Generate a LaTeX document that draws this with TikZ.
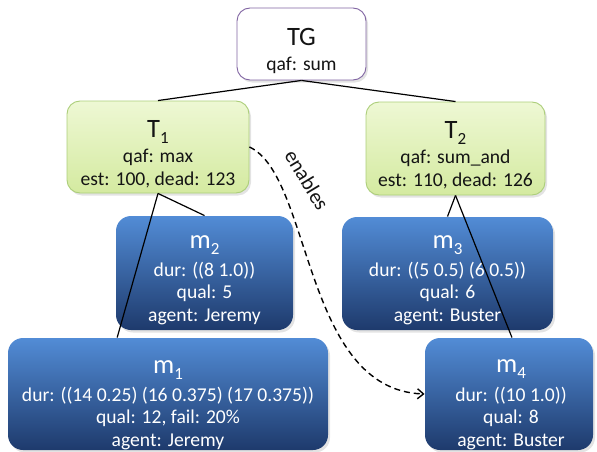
\documentclass[tikz,border=0pt]{standalone}
\usepackage{fontspec}
\setmainfont{Carlito}
\usetikzlibrary{shadows,arrows.meta}
\definecolor{tgborder}{RGB}{128,100,162}
\definecolor{grtop}{RGB}{238,248,212}
\definecolor{grbot}{RGB}{212,234,160}
\definecolor{grborder}{RGB}{172,206,122}
\definecolor{bltop}{RGB}{82,140,214}
\definecolor{blbot}{RGB}{30,58,108}
\definecolor{darktext}{RGB}{20,20,20}
\newcommand\titlefs{\fontsize{26.5}{26.5}\selectfont}
\newcommand\bodyfs{\fontsize{19.6}{22.5}\selectfont}
\newcommand\subsc[1]{\raisebox{-6pt}{\fontsize{17}{17}\selectfont #1}}
\begin{document}
\begin{tikzpicture}[x=1pt,y=-1pt,
  box/.style={rectangle, rounded corners=13pt, inner sep=0pt, line width=0.9pt,
    drop shadow={opacity=0.22, shadow xshift=2pt, shadow yshift=-2.5pt}},
  tgbox/.style={box, draw=tgborder, fill=white},
  grbox/.style={box, draw=grborder, top color=grtop, bottom color=grbot},
  blbox/.style={box, rounded corners=15pt, draw=none, top color=bltop, bottom color=blbot},
  txt/.style={anchor=north, align=center, inner sep=0pt, font=\bodyfs},
  dtxt/.style={txt, text=darktext},
  wtxt/.style={txt, text=white},
  edge/.style={draw=black, line width=1.2pt},
  enab/.style={draw=black, line width=1.4pt, dash pattern=on 6pt off 4pt,
    -{Straight Barb[length=6pt,width=10pt,line width=1.4pt]}}
]
\useasboundingbox (0,0) rectangle (597,452);

% boxes
\node[tgbox, minimum width=129pt, minimum height=72pt] (TG) at (301.5,44) {};
\node[grbox, minimum width=182pt, minimum height=92pt] (T1) at (158,147) {};
\node[grbox, minimum width=179pt, minimum height=93pt] (T2) at (455.5,148.5) {};
\node[blbox, minimum width=177pt, minimum height=114pt] (m2) at (204.5,273) {};
\node[blbox, minimum width=211pt, minimum height=113pt] (m3) at (447.5,273.5) {};
\node[blbox, minimum width=320pt, minimum height=112pt] (m1) at (168,394) {};
\node[blbox, minimum width=168pt, minimum height=112pt] (m4) at (509,394) {};

% texts
\node[dtxt] (TGt) at (301.5,28) {{\titlefs TG}\\[2.5pt]qaf: sum};
\node[dtxt] (T1t) at (158,120.5) {{\titlefs T\subsc{1}}\\[2.5pt]qaf: max\\est: 100, dead: 123};
\node[dtxt] (T2t) at (455.5,121.5) {{\titlefs T\subsc{2}}\\[2.5pt]qaf: sum\_and\\est: 110, dead: 126};
\node[wtxt] (m2t) at (204.5,235) {{\titlefs m\subsc{2}}\\[5.5pt]dur: ((8 1.0))\\qual: 5\\agent: Jeremy};
\node[wtxt] (m3t) at (447.5,235) {{\titlefs m\subsc{3}}\\[5.5pt]dur: ((5 0.5) (6 0.5))\\qual: 6\\agent: Buster};
\node[wtxt] (m1t) at (168,360) {{\titlefs m\subsc{1}}\\[5.5pt]dur: ((14 0.25) (16 0.375) (17 0.375))\\qual: 12, fail: 20\%\\agent: Jeremy};
\node[wtxt] (m4t) at (511,359) {{\titlefs m\subsc{4}}\\[6.5pt]dur: ((10 1.0))\\qual: 8\\agent: Buster};

% tree edges
\draw[edge] (TG.south) -- (T1.north);
\draw[edge] (TG.south) -- (T2.north);
\draw[edge] (T1.south) -- (m2.north);
\draw[edge] (T1.south) -- (m1.132);
\draw[edge] (T2.south) -- (m3.north);
\draw[edge] (T2.south) -- (m4.87);

% enables
\draw[enab] (T1.east) .. controls (312,176) and (303,390) .. (m4.west);
\node[font=\fontsize{21}{21}\selectfont, rotate=-59, text=darktext, inner sep=0pt] (enl) at (307,180) {enables};
\end{tikzpicture}
\end{document}
